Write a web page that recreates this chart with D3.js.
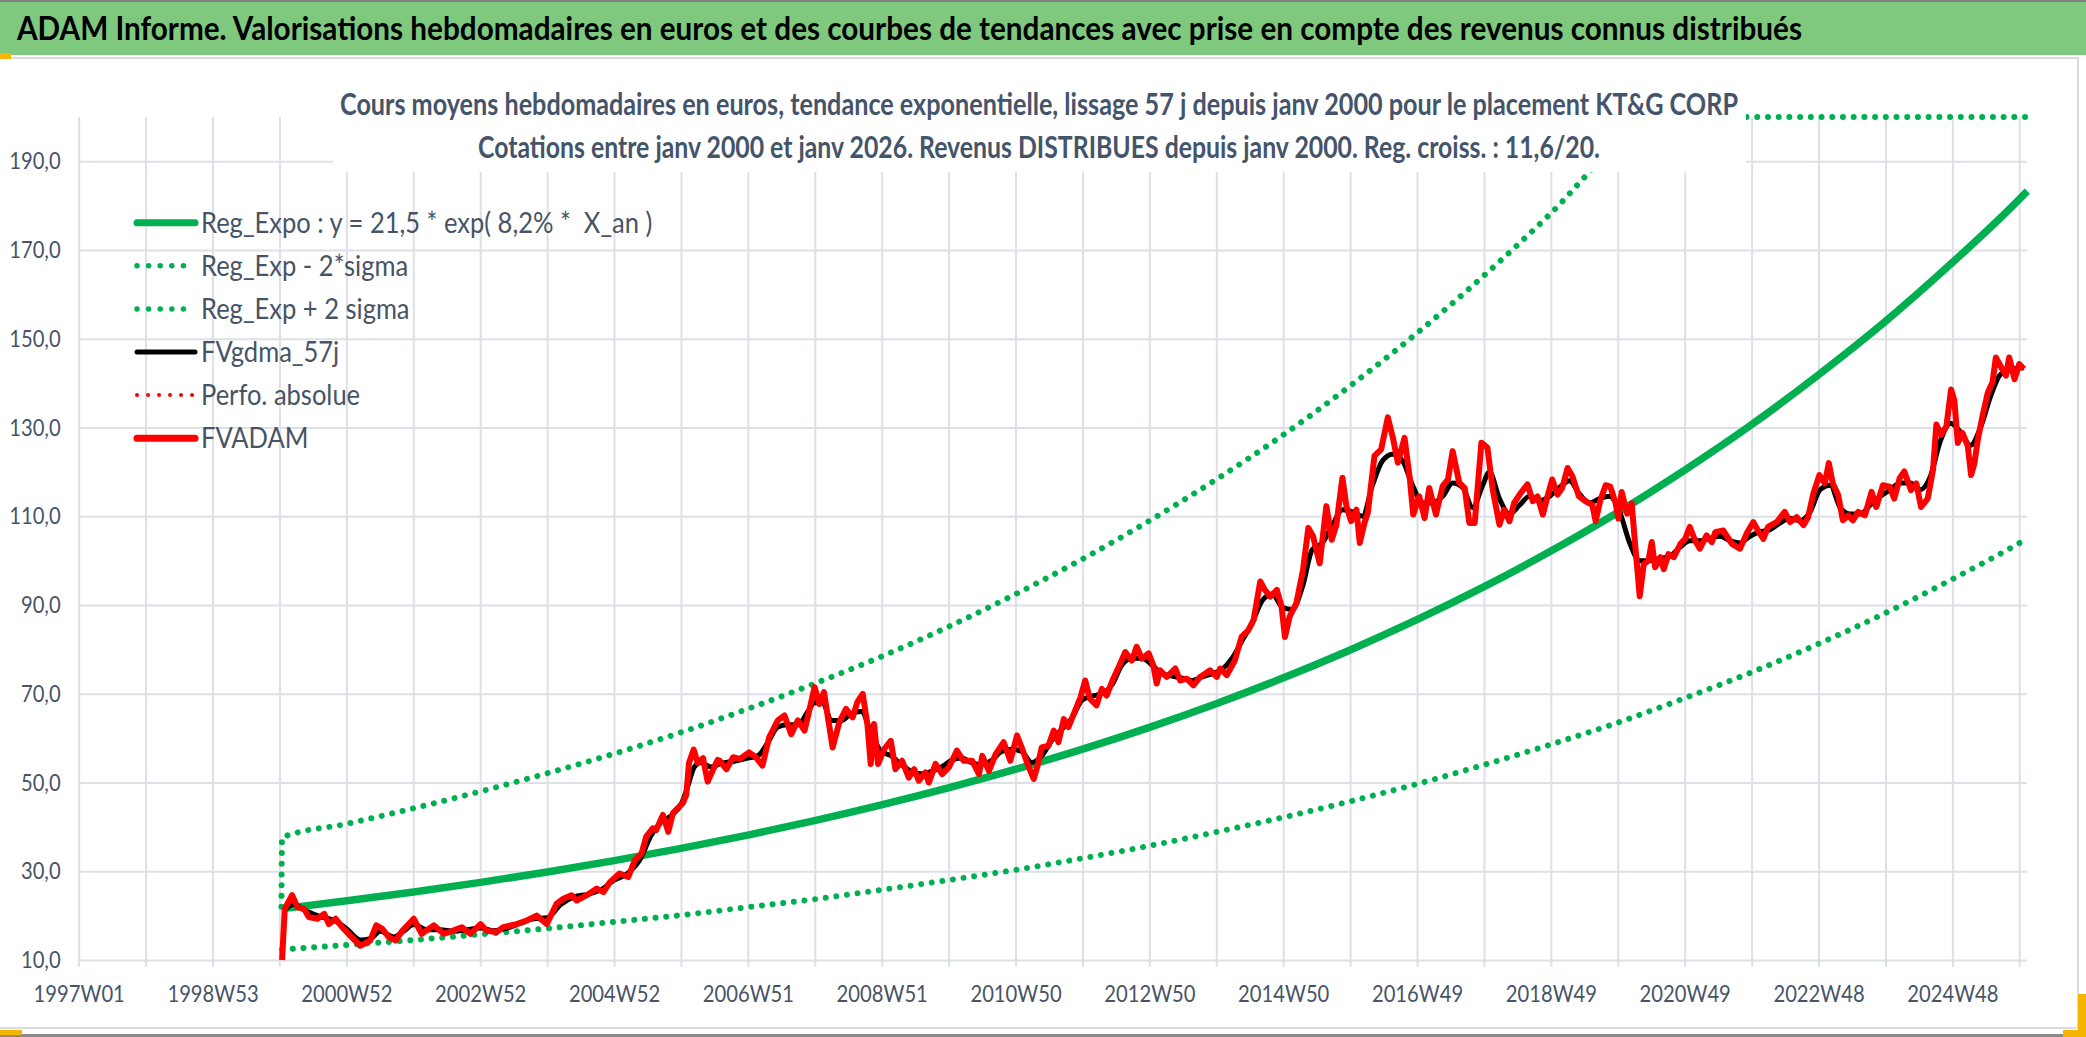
<!DOCTYPE html>
<html lang="fr">
<head>
<meta charset="UTF-8" />
<title>ADAM Informe - KT&G CORP</title>
<script src="https://d3js.org/d3.v7.min.js"></script>
<style>
  body { margin: 0; background: #fff; }
  text { font-family: Lato, "Open Sans", sans-serif; }
</style>
</head>
<body>
<svg id="chart" width="2086" height="1037"></svg>
<script>
// ---- data ----
const xTickLabels = ["1997W01", "1998W53", "2000W52", "2002W52", "2004W52", "2006W51", "2008W51",
  "2010W50", "2012W50", "2014W50", "2016W49", "2018W49", "2020W49", "2022W48", "2024W48"];
const yTicks = [10, 30, 50, 70, 90, 110, 130, 150, 170, 190];

const legendLabels = ["Reg_Expo : y = 21,5 * exp( 8,2% *  X_an )", "Reg_Exp - 2*sigma", "Reg_Exp + 2 sigma",
  "FVgdma_57j", "Perfo. absolue", "FVADAM"];

// trend curves, one value per year (decimal year)
const trendYears = [2000.03, 2001, 2002, 2003, 2004, 2005, 2006, 2007, 2008, 2009, 2010, 2011, 2012, 2013,
  2014, 2015, 2016, 2017, 2018, 2019, 2020, 2021, 2022, 2023, 2024, 2025, 2026, 2026.15];
const regExpo = [21.55, 23.34, 25.33, 27.49, 29.84, 32.39, 35.15, 38.16, 41.41, 44.95, 48.79, 52.95, 57.47, 62.38,
  67.71, 73.49, 79.77, 86.58, 93.97, 102.0, 110.7, 120.2, 130.4, 141.6, 153.6, 166.8, 181.0, 183.3];
const regMinus2s = [12.35, 13.4, 14.5, 15.8, 17.1, 18.6, 20.1, 21.9, 23.7, 25.8, 28.0, 30.3, 32.9, 35.7,
  38.8, 42.1, 45.7, 49.6, 53.9, 58.5, 63.4, 68.9, 74.7, 81.1, 88.0, 95.6, 103.7, 105.0];
const regPlus2s = [37.6, 40.7, 44.2, 48.0, 52.1, 56.5, 61.3, 66.6, 72.3, 78.4, 85.1, 92.4, 100.3, 108.9,
  118.2, 128.2, 139.2, 151.1, 164.0, 178.0, 193.2, 209.7, 227.6, 247.1, 268.0, 291.1, 315.8, 319.9];
const regPlus2sStart = 22;

// FVADAM weekly valuation [decimal year, euros]
const fvadam = [
  [2000.03,10],[2000.07,21.5],[2000.18,24.6],[2000.26,21.9],[2000.36,21.5],[2000.43,19.7],[2000.56,19.3],
  [2000.66,20.4],[2000.73,18.1],[2000.83,19.3],[2000.93,17.4],[2001.05,15.5],[2001.2,13.2],[2001.35,14.4],
  [2001.44,17.8],[2001.53,17],[2001.63,15.1],[2001.73,14.4],[2001.83,16.6],[2002.0,19.3],[2002.12,15.9],
  [2002.3,17.8],[2002.45,15.9],[2002.57,16.5],[2002.72,17.4],[2002.85,15.9],[2003.0,18.1],[2003.09,16.6],
  [2003.24,16.3],[2003.34,17.4],[2003.54,18.1],[2003.69,18.9],[2003.84,20],[2003.99,18.1],[2004.14,22.7],
  [2004.24,23.8],[2004.36,24.6],[2004.44,23.4],[2004.59,24.6],[2004.74,26.1],[2004.84,25.3],[2004.94,27.6],
  [2005.08,29.5],[2005.21,28.7],[2005.31,32.5],[2005.41,34],[2005.48,37.8],[2005.58,39.7],[2005.63,39.3],
  [2005.73,42.7],[2005.81,38.9],[2005.88,43.1],[2006.03,45.4],[2006.08,47.2],[2006.12,54.4],[2006.19,57.4],
  [2006.25,54.4],[2006.33,55.5],[2006.40,50.2],[2006.48,52.9],[2006.55,55.1],
  [2006.58,54.9],[2006.68,53],[2006.78,55.7],[2006.88,55.3],[2007.02,56.8],[2007.12,55.7],[2007.22,53.8],
  [2007.32,60.2],[2007.45,64],[2007.55,65.1],[2007.65,60.9],[2007.75,64],[2007.85,61.7],[2007.92,66.2],
  [2008.0,71.5],[2008.07,67.7],[2008.14,70.4],[2008.27,57.9],[2008.37,63.6],[2008.47,66.6],[2008.57,64.7],
  [2008.64,68.1],[2008.72,70],[2008.79,63.2],[2008.84,54.2],[2008.89,63.2],[2008.95,54.2],[2009.04,57.5],
  [2009.14,59.4],[2009.21,53],[2009.31,54.9],[2009.41,51.1],[2009.49,53],[2009.56,50.4],[2009.66,52.3],
  [2009.71,50],[2009.81,54.2],[2009.91,51.9],[2010.01,53.4],[2010.13,57.2],[2010.23,54.9],[2010.36,54.9],
  [2010.46,51.9],[2010.51,56],[2010.61,52.6],[2010.71,56.4],[2010.83,59.1],[2010.93,54.9],[2011.03,60.6],
  [2011.10,57.9],[2011.18,54.5],[2011.28,50.8],[2011.33,53.4],[2011.40,57.9],[2011.50,58.3],[2011.58,61.7],
  [2011.65,59.1],[2011.73,64.3],[2011.80,62.5],[2011.88,65.5],[2011.98,69.2],[2012.05,73],[2012.12,68.9],
  [2012.22,67.4],[2012.30,71.1],[2012.37,69.6],[2012.47,73.4],[2012.55,76],[2012.65,79.4],[2012.75,77.5],
  [2012.82,80.6],[2012.90,77.9],[2013.0,79.1],[2013.07,76.4],[2013.12,72.3],
  [2013.17,75.3],[2013.27,73.8],[2013.40,75.7],[2013.47,73],[2013.57,73.4],[2013.67,71.9],[2013.77,73.8],
  [2013.92,75.3],[2014.02,73.8],[2014.07,75.7],[2014.17,74.2],[2014.29,77.5],[2014.39,82.8],[2014.49,84.3],
  [2014.57,86.6],[2014.67,95.3],[2014.74,93.4],[2014.82,91.9],[2014.92,93.4],[2014.99,89.6],[2015.04,82.8],
  [2015.11,87.4],[2015.21,90.4],[2015.31,97.9],[2015.39,107.4],[2015.46,105.5],[2015.56,99.4],[2015.66,112.3],
  [2015.74,104.7],[2015.81,108.1],[2015.90,118.7],[2015.96,112.3],[2016.03,108.9],[2016.11,111.5],[2016.16,104],
  [2016.23,108.5],[2016.28,110.8],[2016.38,123.6],[2016.48,125.1],[2016.58,132.3],[2016.66,127.4],[2016.73,122.1],
  [2016.83,127.7],[2016.91,118.3],[2016.96,110.4],[2017.05,114.5],[2017.13,109.6],[2017.20,116.4],[2017.30,110.4],
  [2017.40,116.8],[2017.48,118.3],[2017.55,124.7],[2017.65,117.5],[2017.73,116.4],[2017.80,108.5],[2017.88,108.5],
  [2017.98,126.6],[2018.07,125.5],[2018.15,116],[2018.25,108.1],[2018.32,111.5],[2018.40,108.9],[2018.47,113],
  [2018.57,115.3],[2018.67,117.2],[2018.75,113.4],[2018.82,114.5],[2018.90,110.4],[2018.97,114.5],[2019.04,118.3],
  [2019.12,114.9],[2019.19,116.4],[2019.27,120.9],[2019.34,119.1],[2019.44,114.5],[2019.54,113.4],[2019.64,112.6],
  [2019.69,108.9],
  [2019.76,113.6],[2019.84,117],[2019.91,116.7],[2019.99,112.9],[2020.03,109.5],[2020.08,115.5],[2020.16,110.6],
  [2020.23,112.9],[2020.28,103.8],[2020.35,92],[2020.41,99.2],[2020.48,100],[2020.53,104.2],[2020.58,98.5],
  [2020.66,100.8],[2020.71,98.1],[2020.78,101.5],[2020.86,100.8],[2020.96,103.8],[2021.03,104.9],[2021.10,107.6],
  [2021.18,104.5],[2021.25,102.7],[2021.35,105.7],[2021.43,104.2],[2021.48,106.4],[2021.60,106.8],[2021.73,103.8],
  [2021.85,102.7],[2021.95,106.1],[2022.05,108.7],[2022.12,106.8],[2022.20,104.9],[2022.27,107.6],[2022.40,108.7],
  [2022.52,111],[2022.60,108.7],[2022.70,109.8],[2022.80,108],[2022.87,109.8],[2022.95,115.2],[2023.04,119.3],
  [2023.12,117.4],[2023.18,122],[2023.24,117.4],[2023.32,114.8],[2023.39,109.1],[2023.47,110.2],[2023.54,109.1],
  [2023.62,111],[2023.72,110.2],[2023.82,115.5],[2023.89,112.1],[2023.99,117],[2024.09,116.7],[2024.16,114],
  [2024.24,118.6],[2024.31,120.1],[2024.41,115.9],[2024.49,117.4],[2024.56,112.1],[2024.66,114],[2024.74,120.5],
  [2024.79,130.7],[2024.86,128.4],[2024.94,130.3],[2025.01,138.6],[2025.06,136],[2025.11,126.5],[2025.18,128.8],
  [2025.26,125.8],[2025.31,119.3],[2025.36,122],[2025.41,127.3],[2025.48,132.6],[2025.56,137.9],[2025.63,140.2],
  [2025.68,145.8],[2025.76,143.6],[2025.83,141.7],[2025.88,145.8],[2025.96,140.9],[2026.03,144.3],[2026.10,143.2]
];

// FVgdma_57j smoothed valuation [decimal year, euros]
const fvgdma = [
  [2000.05,21],[2000.2,22.5],[2000.4,21],[2000.6,19.8],[2000.8,19],[2001.0,17],[2001.2,14.5],[2001.35,14.8],
  [2001.5,16.5],[2001.7,15.2],[2001.85,16.5],[2002.0,18],[2002.2,16.8],[2002.4,16.8],[2002.6,16.5],[2002.8,16.8],
  [2003.0,17.2],[2003.2,16.6],[2003.4,17.2],[2003.6,18.3],[2003.8,19.3],[2004.0,19.5],[2004.2,22.5],[2004.4,24.2],
  [2004.6,24.8],[2004.8,25.8],[2005.0,28],[2005.2,29.5],[2005.4,33],[2005.55,38],[2005.7,41],[2005.85,42.5],
  [2006.0,45],[2006.1,49],[2006.2,53.5],[2006.3,54.5],[2006.45,53.5],[2006.6,54.3],[2006.8,54.8],[2007.0,55.5],
  [2007.15,56],[2007.3,59],[2007.45,62.5],[2007.6,63],[2007.75,63],[2007.9,66],[2008.0,68],[2008.12,68],
  [2008.25,64],[2008.4,64],[2008.55,65.5],[2008.7,66],[2008.85,61],[2009.0,57],[2009.15,56],[2009.3,54],
  [2009.45,52.5],[2009.6,52],[2009.75,52.5],[2009.9,53.5],[2010.05,55],[2010.2,55.5],[2010.35,54.5],[2010.5,54],
  [2010.65,55],[2010.8,57],[2010.95,57.5],[2011.1,57],[2011.25,54.5],[2011.4,56],[2011.55,59.5],[2011.7,62],
  [2011.85,64.5],[2012.0,68.5],[2012.15,69.5],[2012.3,70],[2012.45,72],[2012.6,76.5],[2012.75,78],[2012.9,78],
  [2013.05,76.5],[2013.2,74.5],[2013.35,74],[2013.5,73.5],[2013.65,73],[2013.8,73.8],[2013.95,74.5],[2014.1,75.5],
  [2014.25,78],[2014.4,82],[2014.55,86],[2014.7,91],[2014.85,92.5],[2015.0,89.5],[2015.15,89],[2015.3,94],
  [2015.45,102.5],[2015.6,104],[2015.75,108],[2015.9,111.5],[2016.05,111],[2016.2,110],[2016.35,117],[2016.5,122.5],
  [2016.65,124],[2016.8,122.5],[2016.95,117],[2017.1,113],[2017.25,113],[2017.4,114.5],[2017.55,117.5],[2017.7,116.5],
  [2017.85,112],[2018.0,117],[2018.1,120],[2018.25,114],[2018.4,110.5],[2018.55,112.5],[2018.7,114.5],[2018.85,113.5],
  [2019.0,114.5],[2019.15,116.5],[2019.3,118],[2019.45,115],[2019.6,113],[2019.75,114],[2019.9,114.5],[2020.05,111],
  [2020.2,104],[2020.35,100],[2020.5,100],[2020.65,100.5],[2020.8,101],[2020.95,103],[2021.1,104.5],[2021.25,104.5],
  [2021.4,105],[2021.55,105.5],[2021.7,104.5],[2021.85,104],[2022.0,105.5],[2022.15,106.5],[2022.3,107],[2022.45,108.5],
  [2022.6,109.5],[2022.75,109],[2022.9,111],[2023.05,116],[2023.2,117],[2023.35,112],[2023.5,110.5],[2023.65,110.5],
  [2023.8,112.5],[2023.95,114.5],[2024.1,116],[2024.25,117.5],[2024.4,117.5],[2024.55,116],[2024.7,119],[2024.85,127],
  [2025.0,131],[2025.15,129],[2025.3,126],[2025.45,130],[2025.6,137],[2025.75,142],[2025.9,143],[2026.05,143.5],
  [2026.1,143.5]
];

// ---- layout ----
const W = 2086, H = 1037;
const plot = { left: 78.7, right: 2027, top: 117, bottom: 960 };
const grid = "#dde0e6";
const textCol = "#475366";
const green = "#00b050";

const svg = d3.select("#chart");

// week number counted from 1997W01 (category axis of the workbook)
const weekIdx = t => (t - 1996.986) * 51.92;
const x = d3.scaleLinear().domain([0, 1514]).range([plot.left, plot.right]);
const y = d3.scaleLinear().domain([10, 200]).range([plot.bottom, plot.top]).clamp(true);

// background, header band and frame
svg.append("rect").attr("width", W).attr("height", H).attr("fill", "#fff");
svg.append("rect").attr("x", 0).attr("y", 0).attr("width", W).attr("height", 55).attr("fill", "#7ec97e");
svg.append("rect").attr("x", 0).attr("y", 0).attr("width", W).attr("height", 2).attr("fill", "#808080");
svg.append("rect").attr("x", -2).attr("y", 58).attr("width", 2080).attr("height", 970)
  .attr("fill", "none").attr("stroke", "#dcdcdc").attr("stroke-width", 2);
svg.append("rect").attr("x", 0).attr("y", 1034).attr("width", W).attr("height", 3).attr("fill", "#8a8a8a");
svg.append("rect").attr("x", 0).attr("y", 53).attr("width", 11).attr("height", 6).attr("fill", "#f4b400");
svg.append("rect").attr("x", 0).attr("y", 1030).attr("width", 22).attr("height", 5).attr("fill", "#f4b400");
svg.append("rect").attr("x", 2078).attr("y", 994).attr("width", 8).attr("height", 43).attr("fill", "#f4b400");
svg.append("rect").attr("x", 2063).attr("y", 1030).attr("width", 23).attr("height", 7).attr("fill", "#f4b400");

svg.append("text")
  .attr("x", 17).attr("y", 40)
  .attr("font-size", 33).attr("font-weight", 700).attr("fill", "#000")
  .attr("textLength", 1785).attr("lengthAdjust", "spacingAndGlyphs")
  .text("ADAM Informe. Valorisations hebdomadaires en euros et des courbes de tendances avec prise en compte des revenus connus distribués");

// y axis with horizontal gridlines
const yAxis = d3.axisLeft(y)
  .tickValues(yTicks)
  .tickSizeInner(-(plot.right - plot.left))
  .tickSizeOuter(0)
  .tickPadding(21)
  .tickFormat(d => d3.format(".1f")(d).replace(".", ","));
const gy = svg.append("g").attr("transform", `translate(${plot.left},0)`).call(yAxis);
gy.select(".domain").remove();
gy.selectAll(".tick line").attr("stroke", grid).attr("stroke-width", 2);
gy.selectAll(".tick text").attr("fill", textCol).attr("font-size", 23.5).attr("transform", "scale(0.86,1)");

// x axis: a tick every 52 weeks, a label every 104
const xAxis = d3.axisBottom(x)
  .tickValues(d3.range(0, 1514, 52))
  .tickSizeInner(7)
  .tickSizeOuter(0)
  .tickPadding(18)
  .tickFormat((d, i) => (i % 2 ? "" : xTickLabels[i / 2]));
const gx = svg.append("g").attr("transform", `translate(0,${plot.bottom})`).call(xAxis);
gx.select(".domain").remove();
gx.selectAll(".tick line").attr("y1", -(plot.bottom - plot.top)).attr("y2", 7)
  .attr("stroke", grid).attr("stroke-width", 2);
gx.selectAll(".tick text").attr("fill", textCol).attr("font-size", 23.5).attr("transform", "scale(0.86,1)");

// series
svg.append("clipPath").attr("id", "plotclip")
  .append("rect").attr("x", plot.left - 4).attr("y", plot.top - 8)
  .attr("width", plot.right - plot.left + 8).attr("height", plot.bottom - plot.top + 12);
const lines = svg.append("g").attr("clip-path", "url(#plotclip)");

const line = d3.line().x(d => x(weekIdx(d[0]))).y(d => y(d[1]));
const smooth = d3.line().x(d => x(weekIdx(d[0]))).y(d => y(d[1])).curve(d3.curveMonotoneX);

const regData = trendYears.map((t, i) => [t, regExpo[i]]);
const lowData = trendYears.map((t, i) => [t, regMinus2s[i]]);
const upData = [[trendYears[0] - 0.01, regPlus2sStart]].concat(trendYears.map((t, i) => [t, regPlus2s[i]]));

lines.append("path").attr("d", smooth(lowData)).attr("fill", "none").attr("stroke", green)
  .attr("stroke-width", 6).attr("stroke-linecap", "round").attr("stroke-dasharray", "0.01 10.7");
lines.append("path").attr("d", smooth(upData)).attr("fill", "none").attr("stroke", green)
  .attr("stroke-width", 6).attr("stroke-linecap", "round").attr("stroke-dasharray", "0.01 10.7");
lines.append("path").attr("d", smooth(regData)).attr("fill", "none").attr("stroke", green)
  .attr("stroke-width", 7.5);
lines.append("path").attr("d", smooth(fvgdma)).attr("fill", "none").attr("stroke", "#000")
  .attr("stroke-width", 5).attr("stroke-linejoin", "round");
lines.append("path").attr("d", line(fvadam)).attr("fill", "none").attr("stroke", "#ff0000")
  .attr("stroke-width", 6).attr("stroke-linejoin", "round");

// chart title box (sits over the plot)
svg.append("rect").attr("x", 333).attr("y", 68).attr("width", 1413).attr("height", 104).attr("fill", "#fff");
svg.append("text")
  .attr("x", 1039).attr("y", 115).attr("text-anchor", "middle")
  .attr("font-size", 30).attr("font-weight", 700).attr("fill", "#44546a")
  .attr("textLength", 1398).attr("lengthAdjust", "spacingAndGlyphs")
  .text("Cours moyens hebdomadaires en euros, tendance exponentielle, lissage 57 j depuis janv 2000 pour le placement KT&G CORP");
svg.append("text")
  .attr("x", 1039).attr("y", 158).attr("text-anchor", "middle")
  .attr("font-size", 30).attr("font-weight", 700).attr("fill", "#44546a")
  .attr("textLength", 1122).attr("lengthAdjust", "spacingAndGlyphs")
  .text("Cotations entre janv 2000 et janv 2026. Revenus DISTRIBUES depuis janv 2000. Reg. croiss. : 11,6/20.");

// legend
const legendStyles = [
  { color: green, width: 7, dash: null },
  { color: green, width: 5.5, dash: "0.01 11.6" },
  { color: green, width: 5.5, dash: "0.01 11.6" },
  { color: "#000", width: 5, dash: null },
  { color: "#ff0000", width: 4, dash: "0.01 11" },
  { color: "#ff0000", width: 7, dash: null }
];
const legend = svg.append("g").attr("transform", "translate(137,222.7)");
legendLabels.forEach((label, i) => {
  const row = legend.append("g").attr("transform", `translate(0,${i * 43.1})`);
  const st = legendStyles[i];
  row.append("line").attr("x1", 0).attr("x2", 58).attr("y1", 0).attr("y2", 0)
    .attr("stroke", st.color).attr("stroke-width", st.width).attr("stroke-linecap", "round")
    .attr("stroke-dasharray", st.dash);
  row.append("text").attr("transform", "translate(64,0) scale(0.88,1)").attr("dy", "0.35em")
    .style("white-space", "pre")
    .attr("font-size", 29).attr("fill", textCol).text(label);
});
</script>
</body>
</html>
